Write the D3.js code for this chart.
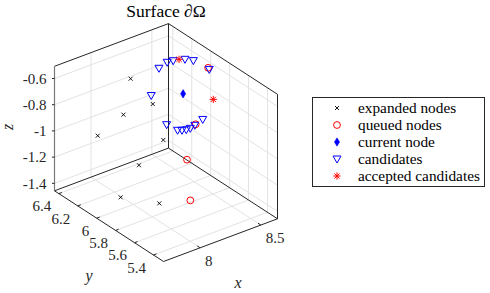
<!DOCTYPE html>
<html lang="en">
<head>
  <meta charset="utf-8">
  <title>Surface</title>
  <script src="https://d3js.org/d3.v7.min.js"></script>
  <style>
    body { margin: 0; background: #fff; }
  </style>
</head>
<body>
<div id="chart"></div>
<script>
// axis limits and ticks
var xLim = [7.699, 8.637], yLim = [5.294, 6.446], zLim = [-1.457, -0.507];
var xTicks = [8, 8.5];
var yTicks = [5.4, 5.6, 5.8, 6, 6.2, 6.4];
var zTicks = [-1.4, -1.2, -1, -0.8, -0.6];

// points [x, y, z]
var expanded = [
  [8.147, 6.217, -0.650], [8.259, 6.127, -0.840], [8.070, 6.194, -0.887],
  [7.867, 6.205, -0.982], [8.275, 6.036, -1.077], [8.145, 6.126, -1.267],
  [7.942, 6.059, -1.410], [8.095, 5.847, -1.410]
];
var queued = [
  [8.539, 5.901, -0.555], [8.470, 5.944, -0.982], [8.340, 5.869, -1.172], [8.281, 5.758, -1.410]
];
var current = [[8.449, 6.050, -0.792]];
var candidates = [
  [8.269, 6.156, -0.792], [8.328, 6.150, -0.602], [8.419, 6.180, -0.602], [8.463, 6.173, -0.602],
  [8.536, 6.142, -0.602], [8.569, 6.096, -0.602], [8.532, 5.880, -0.555], [8.315, 6.052, -0.982],
  [8.327, 5.952, -0.982], [8.350, 5.935, -0.982], [8.377, 5.924, -0.982], [8.409, 5.923, -0.982],
  [8.457, 5.937, -0.982], [8.496, 5.903, -0.935]
];
var accepted = [[8.505, 6.165, -0.602], [8.512, 5.812, -0.745]];
var legendNames = ["expanded nodes", "queued nodes", "current node", "candidates", "accepted candidates"];

var W = 490, H = 293;
var FONT = "'Liberation Serif', 'Times New Roman', 'DejaVu Serif', serif";
var svg = d3.select("#chart").append("svg").attr("width", W).attr("height", H)
  .attr("font-family", FONT);

// projected box corners (floor): F = (xmin,ymin), R = (xmax,ymin), L = (xmin,ymax)
var F = [163.5, 261.5], R = [277.5, 218.8], L = [54.5, 190.8], boxH = 124.5;

var fx = d3.scaleLinear().domain(xLim).range([0, 1]);
var fy = d3.scaleLinear().domain(yLim).range([0, 1]);
var fz = d3.scaleLinear().domain(zLim).range([0, 1]);

function proj(x, y, z) {
  var a = fx(x), b = fy(y), c = fz(z);
  return [F[0] + a * (R[0] - F[0]) + b * (L[0] - F[0]),
          F[1] + a * (R[1] - F[1]) + b * (L[1] - F[1]) - c * boxH];
}
function seg(g, p, q, color, w) {
  g.append("line").attr("x1", p[0]).attr("y1", p[1]).attr("x2", q[0]).attr("y2", q[1])
    .attr("stroke", color).attr("stroke-width", w);
}
function txt(g, x, y, s, size) {
  return g.append("text").attr("x", x).attr("y", y).attr("dy", "0.35em")
    .attr("font-family", FONT).attr("font-size", size).attr("fill", "#262626").text(s);
}

var grid = svg.append("g"), gc = "#e3e3e3";
var x0 = xLim[0], x1 = xLim[1], y0 = yLim[0], y1 = yLim[1], z0 = zLim[0], z1 = zLim[1];
xTicks.forEach(function (t) {
  seg(grid, proj(t, y0, z0), proj(t, y1, z0), gc, 1);   // floor
  seg(grid, proj(t, y1, z0), proj(t, y1, z1), gc, 1);   // back-left wall
});
yTicks.forEach(function (t) {
  seg(grid, proj(x0, t, z0), proj(x1, t, z0), gc, 1);
  seg(grid, proj(x1, t, z0), proj(x1, t, z1), gc, 1);
});
zTicks.forEach(function (t) {
  seg(grid, proj(x0, y1, t), proj(x1, y1, t), gc, 1);
  seg(grid, proj(x1, y1, t), proj(x1, y0, t), gc, 1);
});

var box = svg.append("g"), bc = "#262626";
seg(box, proj(x0, y1, z1), proj(x1, y1, z1), bc, 1);
seg(box, proj(x1, y1, z1), proj(x1, y0, z1), bc, 1);
seg(box, proj(x1, y1, z0), proj(x1, y1, z1), bc, 1);
seg(box, proj(x1, y0, z0), proj(x1, y0, z1), bc, 1);
seg(box, proj(x0, y1, z0), proj(x1, y1, z0), bc, 1);
seg(box, proj(x1, y1, z0), proj(x1, y0, z0), bc, 1);
seg(box, proj(x0, y1, z0), proj(x0, y1, z1), "#7a7a7a", 1.2);
seg(box, proj(x0, y0, z0), proj(x1, y0, z0), bc, 1);
seg(box, proj(x0, y0, z0), proj(x0, y1, z0), bc, 1);

// ticks and labels
var lab = svg.append("g");
zTicks.forEach(function (t) {
  var p = proj(x0, y1, t);
  seg(lab, [p[0] - 2.5, p[1]], p, bc, 1);
  txt(lab, p[0] - 8, p[1], t, 15).attr("text-anchor", "end");
});
xTicks.forEach(function (t) {
  var p = proj(t, y0, z0), q = proj(t, y0 + 0.03, z0);
  seg(lab, p, q, bc, 1);
  txt(lab, p[0] + 5, p[1] + 13, t, 15);
});
yTicks.forEach(function (t) {
  var p = proj(x0, t, z0), q = proj(x0 + 0.025, t, z0);
  seg(lab, p, q, bc, 1);
  txt(lab, p[0] - 7.5, p[1] + 12.5, t, 15).attr("text-anchor", "end");
});

txt(svg, 166, 11, "Surface \u2202\u03A9", 17.5).attr("text-anchor", "middle").attr("fill", "#000");
txt(svg, 0, 0, "z", 16).attr("transform", "translate(7,127) rotate(-90)")
  .attr("text-anchor", "middle").attr("font-style", "italic");
txt(svg, 89, 275, "y", 16).attr("text-anchor", "middle").attr("font-style", "italic");
txt(svg, 238, 282, "x", 16).attr("text-anchor", "middle").attr("font-style", "italic");

// marker shapes
function drawMarker(g, kind, p) {
  var m = g.append("g").attr("transform", "translate(" + p[0] + "," + p[1] + ")");
  if (kind === "cross") {
    m.append("path").attr("d", "M-2,-2L2,2M-2,2L2,-2").attr("fill", "none")
      .attr("stroke", "#000").attr("stroke-width", 0.9);
  }
  if (kind === "circle") {
    m.append("circle").attr("r", 3.4).attr("fill", "none").attr("stroke", "#ff0000").attr("stroke-width", 1);
  }
  if (kind === "diamond") {
    m.append("path").attr("d", "M0,-4.2L2.6,0L0,4.2L-2.6,0Z").attr("fill", "#0000ff")
      .attr("stroke", "#0000ff").attr("stroke-width", 0.5);
  }
  if (kind === "tri") {
    m.append("path").attr("d", "M-4,-3L4,-3L0,4Z").attr("fill", "none")
      .attr("stroke", "#0000ff").attr("stroke-width", 1);
  }
  if (kind === "star") {
    m.append("path").attr("d", "M-3.6,0L3.6,0M0,-3.6L0,3.6M-2.6,-2.6L2.6,2.6M-2.6,2.6L2.6,-2.6")
      .attr("fill", "none").attr("stroke", "#ff0000").attr("stroke-width", 1);
  }
}
var marks = svg.append("g");
var sets = [[expanded, "cross"], [queued, "circle"], [current, "diamond"], [candidates, "tri"], [accepted, "star"]];
sets.forEach(function (s) {
  s[0].forEach(function (d) { drawMarker(marks, s[1], proj(d[0], d[1], d[2])); });
});

// legend
var leg = svg.append("g");
leg.append("rect").attr("x", 312.5).attr("y", 97.5).attr("width", 172).attr("height", 89)
  .attr("fill", "#fff").attr("stroke", "#262626").attr("stroke-width", 1);
legendNames.forEach(function (n, i) {
  var yy = 108 + i * 17;
  drawMarker(leg, sets[i][1], [337, yy]);
  txt(leg, 358, yy, n, 15.3).attr("fill", "#000");
});
</script>
</body>
</html>
